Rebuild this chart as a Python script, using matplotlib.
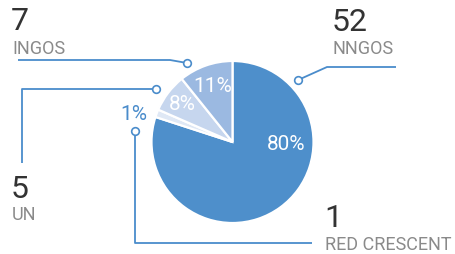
import matplotlib
matplotlib.use('Agg')
import matplotlib.pyplot as plt

plt.rcParams['font.family'] = ['Roboto', 'DejaVu Sans']

# data
labels = ['NNGOS', 'RED CRESCENT', 'UN', 'INGOS']
counts = [52, 1, 5, 7]
colors = ['#4e8fcb', '#dfe8f5', '#c6d6ee', '#9bb9e1']

BLUE = '#4a8ccb'
W, H = 456, 254

fig = plt.figure(figsize=(W / 100, H / 100), dpi=100)
ax = fig.add_axes([0, 0, 1, 1])

# pixel coordinates, y pointing down -> start at -90 and go "counterclock" to get clockwise from top
ax.pie(counts, colors=colors, startangle=-90, counterclock=True,
       center=(232.5, 142), radius=81,
       wedgeprops=dict(edgecolor='white', linewidth=1.6))
ax.set_xlim(0, W)
ax.set_ylim(H, 0)
ax.set_aspect('equal')
ax.axis('off')

# percentages summing to 100 (largest remainder)
total = sum(counts)
raw = [c / total * 100 for c in counts]
ints = [int(r) for r in raw]
order = sorted(range(len(raw)), key=lambda i: raw[i] - ints[i], reverse=True)
for i in order[:100 - sum(ints)]:
    ints[i] += 1
pct = [f'{v}%' for v in ints]

# percent labels (position, colour)
pct_pos = {'NNGOS': (286.5, 145, 'white'),
           'RED CRESCENT': (134, 114, BLUE),
           'UN': (182.5, 104, 'white'),
           'INGOS': (213, 87, 'white')}
for lab, p in zip(labels, pct):
    x, y, c = pct_pos[lab]
    ax.text(x, y, p, color=c, fontsize=15, ha='center', va='center')

# leader lines ending in small circles
leaders = {
    'INGOS': [(18, 60), (170, 60), (187, 63)],
    'UN': [(22, 163), (22, 89), (156, 89)],
    'RED CRESCENT': [(312, 243), (135, 243), (135, 131)],
    'NNGOS': [(396, 67), (327, 67), (298, 80)],
}
for lab in labels:
    pts = leaders[lab]
    xs = [p[0] for p in pts]
    ys = [p[1] for p in pts]
    ax.plot(xs, ys, color=BLUE, lw=1.3, solid_capstyle='butt', zorder=3)
    ax.plot(xs[-1], ys[-1], 'o', ms=5.5, mfc='white', mec=BLUE, mew=1.2, zorder=4)

# count + category text
text_pos = {'INGOS': (11, 30, 54),
            'UN': (11, 198, 220),
            'RED CRESCENT': (324, 227, 250),
            'NNGOS': (332, 31, 54)}
for lab, n in zip(labels, counts):
    x, yn, yl = text_pos[lab]
    ax.text(x, yn, str(n), color='#333333', fontsize=23, ha='left', va='baseline')
    ax.text(x + 1, yl, lab, color='#8a8a8a', fontsize=13, ha='left', va='baseline')

fig.savefig('out.png', dpi=100)
